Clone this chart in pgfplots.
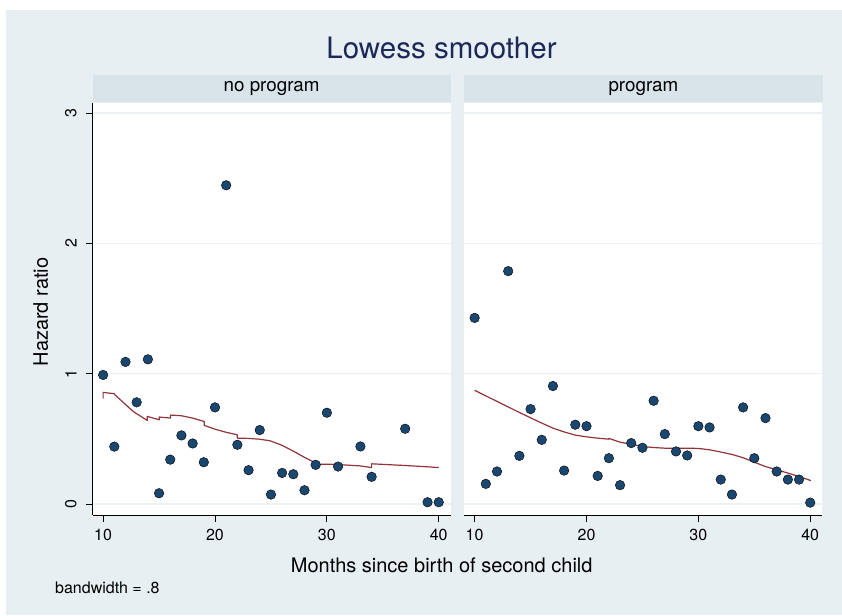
\documentclass[border=0pt]{standalone}
\usepackage{pgfplots}
\pgfplotsset{compat=1.18}
\usepackage{fontspec}
\setmainfont{TeX Gyre Heros}
\definecolor{bg}{RGB}{232,239,242}
\definecolor{stripc}{RGB}{216,227,234}
\definecolor{gridc}{RGB}{234,242,243}
\definecolor{navy}{RGB}{26,71,111}
\definecolor{maroon}{RGB}{144,53,59}
\definecolor{ttl}{RGB}{28,40,88}

\pgfplotstableread{
x y
10 0.99
11 0.44
12 1.09
13 0.78
14 1.11
15 0.082
16 0.34
17 0.526
18 0.464
19 0.32
20 0.741
21 2.446
22 0.454
23 0.259
24 0.567
25 0.072
26 0.238
27 0.228
28 0.105
29 0.30
30 0.70
31 0.287
33 0.441
34 0.208
37 0.577
39 0.013
40 0.013
}\ptsA

\pgfplotstableread{
x y
10.0 0.808
10.0 0.856
11.01 0.846
11.01 0.841
12.68 0.710
13.94 0.641
13.94 0.672
15.01 0.646
15.01 0.667
16.02 0.659
16.02 0.682
17.0 0.677
17.99 0.659
19.04 0.633
19.04 0.603
19.99 0.574
21.03 0.549
21.99 0.531
21.99 0.505
22.97 0.503
23.96 0.497
24.91 0.485
25.96 0.451
26.94 0.408
27.9 0.362
28.85 0.321
28.97 0.305
29.92 0.305
30.88 0.303
32.96 0.292
34.0 0.279
34.0 0.308
36.99 0.295
38.99 0.285
40.0 0.279
}\lineA

\pgfplotstableread{
x y
10 1.428
11 0.154
12 0.249
13 1.787
14 0.369
15 0.728
16 0.492
17 0.905
18 0.256
19 0.608
20 0.597
21 0.215
22 0.351
23 0.144
24 0.467
25 0.431
26 0.792
27 0.536
28 0.403
29 0.372
30 0.597
31 0.587
32 0.187
33 0.072
34 0.741
35 0.351
36 0.659
37 0.249
38 0.187
39 0.187
40 0.010
}\ptsB

\pgfplotstableread{
x y
10 0.872
12 0.787
13.93 0.705
15.86 0.626
17 0.582
17.95 0.554
19 0.528
20 0.515
21 0.505
22 0.497
22 0.503
23 0.474
23.96 0.459
24.98 0.441
25.96 0.433
27 0.428
27.95 0.426
29 0.428
30 0.426
31.04 0.415
32.08 0.397
33.04 0.379
34.02 0.354
35.06 0.318
36 0.287
37 0.262
38.04 0.236
39 0.210
40.06 0.179
}\lineB

\pgfplotsset{
  panel/.style={
    scale only axis, width=358.2pt, height=412.3pt, anchor=south west,
    xmin=9.05, xmax=41.07, ymin=-0.085, ymax=3.08,
    xtick={10,20,30,40}, ytick={0,1,2,3},
    axis background/.style={fill=white},
    ymajorgrids, grid style={gridc, line width=1.3pt},
    tick align=outside, major tick length=6.6pt,
    major tick style={black, line width=0.8pt},
    axis x line*=bottom,
    axis line style={black, line width=0.8pt},
    tick label style={font=\fontsize{16}{16}\selectfont, inner sep=0pt},
    /pgf/number format/assume math mode=true,
    xticklabel style={anchor=north, yshift=-7.4pt},
  },
}

\begin{document}
\begin{tikzpicture}[x=1pt,y=1pt]
\path[use as bounding box, fill=white] (0,0) rectangle (842,615);
\fill[bg] (6,0) rectangle (842,605);
\fill[stripc] (92.5,512.7) rectangle (450.7,540);
\fill[stripc] (464,512.7) rectangle (822.7,540);
\node[anchor=base, text=ttl, font=\fontsize{29.5}{30}\selectfont] at (441.5,556.7) {Lowess smoother};
\node[font=\fontsize{18.8}{19}\selectfont] at (271.6,526.3) {no program};
\node[font=\fontsize{18.8}{19}\selectfont] at (643.4,526.3) {program};

\begin{axis}[panel, at={(92.5pt,100pt)},
  axis y line*=left,
  yticklabel style={anchor=south, xshift=-9.2pt, rotate=90},
]
\addplot[only marks, mark=*, mark size=4.8pt, mark options={draw=none, fill=navy}] table {\ptsA};
\addplot[maroon, line width=1.2pt, no marks, line join=round] table {\lineA};
\end{axis}

\begin{axis}[panel, at={(464pt,100pt)},
  axis y line*=left,
  y axis line style={draw=none},
  ytick style={draw=none},
  yticklabels={},
]
\addplot[only marks, mark=*, mark size=4.8pt, mark options={draw=none, fill=navy}] table {\ptsB};
\addplot[maroon, line width=1.2pt, no marks, line join=round] table {\lineB};
\end{axis}

\node[anchor=base, font=\fontsize{20}{20}\selectfont] at (441.7,42.7) {Months since birth of second child};
\node[anchor=base west, inner sep=0pt, font=\fontsize{16}{16}\selectfont] at (55,22) {bandwidth = .8};
\node[rotate=90, font=\fontsize{20}{20}\selectfont] at (40.7,303) {Hazard ratio};
\end{tikzpicture}
\end{document}
